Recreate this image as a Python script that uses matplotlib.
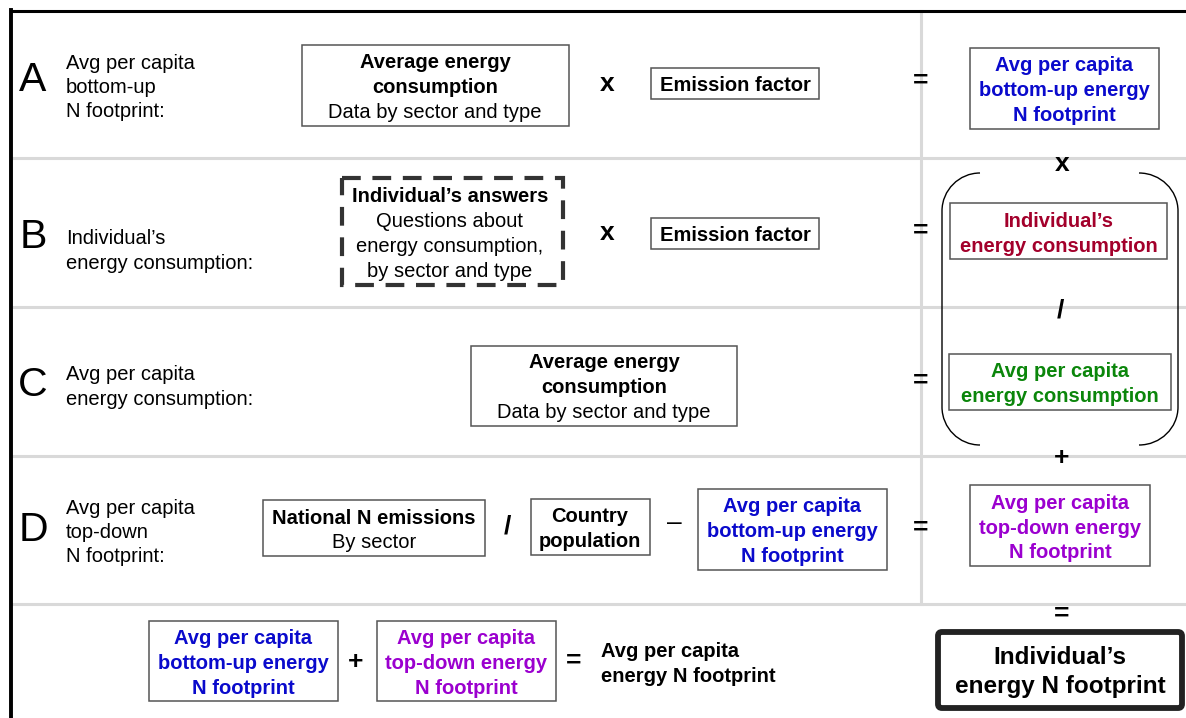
import matplotlib.pyplot as plt
from matplotlib.patches import Rectangle, FancyBboxPatch, PathPatch
from matplotlib.path import Path

plt.rcParams['font.family'] = ['Liberation Sans', 'DejaVu Sans']

# textos del diagrama
letras = ['A', 'B', 'C', 'D']
etiquetas = [
    ['Avg per capita', 'bottom-up', 'N footprint:'],
    ['Individual’s', 'energy consumption:'],
    ['Avg per capita', 'energy consumption:'],
    ['Avg per capita', 'top-down', 'N footprint:'],
]
consumo_medio = ['Average energy', 'consumption', 'Data by sector and type']
factor = ['Emission factor']
respuestas = ['Individual’s answers', 'Questions about', 'energy consumption,', 'by sector and type']
bottom_up = ['Avg per capita', 'bottom-up energy', 'N footprint']
top_down = ['Avg per capita', 'top-down energy', 'N footprint']
individual = ['Individual’s', 'energy consumption']
media_cap = ['Avg per capita', 'energy consumption']
emisiones = ['National N emissions', 'By sector']
poblacion = ['Country', 'population']
total_medio = ['Avg per capita', 'energy N footprint']
final = ['Individual’s', 'energy N footprint']

AZUL = '#0a0acc'
ROJO = '#a3002b'
VERDE = '#0b860b'
MORADO = '#9b00cf'
GRIS = '#d9d9d9'
BORDE = '#555555'

W, H = 1186, 718
fig = plt.figure(figsize=(W / 100, H / 100), dpi=100)
ax = fig.add_axes([0, 0, 1, 1])
ax.set_xlim(0, W)
ax.set_ylim(H, 0)
ax.axis('off')

# lineas de la cuadricula
for y in [158, 307, 456, 604]:
    ax.plot([11, W], [y, y], color=GRIS, lw=2.2, zorder=1)
ax.plot([921, 921], [11, 604], color=GRIS, lw=2.2, zorder=1)
ax.plot([11, W], [11, 11], color='black', lw=2.2, zorder=2)
ax.plot([11, 11], [10, H], color='black', lw=2.8, zorder=2)


def lineas(x, ys, textos, pesos, color='black', ha='center', size=14.5):
    # posiciona cada renglon por su linea base
    dy = size * 0.37 + 2
    for y, t, w in zip(ys, textos, pesos):
        ax.text(x, y + dy, t, ha=ha, va='baseline', fontsize=size, fontweight=w, color=color, zorder=5)


def caja(x0, y0, x1, y1, **kw):
    ax.add_patch(Rectangle((x0, y0), x1 - x0, y1 - y0, fill=False,
                           edgecolor=kw.get('ec', BORDE), lw=kw.get('lw', 1.1),
                           ls=kw.get('ls', '-'), zorder=3))


# etiquetas de las filas
letra_y = [80, 237, 385, 530]
etiqueta_y = [[62, 86, 110], [237, 262], [373, 398], [507, 531, 555]]
for l, ly, et, ey in zip(letras, letra_y, etiquetas, etiqueta_y):
    ax.text(33, ly, l, ha='center', va='center', fontsize=29.5, zorder=5)
    lineas(66, ey, et, ['normal'] * len(et), ha='left')

# fila A
caja(302, 45, 569, 126)
lineas(435, [61, 86, 111], consumo_medio, ['bold', 'bold', 'normal'])
caja(651, 68, 819, 99)
lineas(735, [84], factor, ['bold'])
caja(970, 48, 1159, 129)
lineas(1064, [64, 89, 114], bottom_up, ['bold'] * 3, color=AZUL)

# fila B
caja(342, 178, 563, 285, ec='#333333', lw=3, ls=(0, (4.5, 2.8)))
lineas(450, [195, 220, 245, 270], respuestas, ['bold', 'normal', 'normal', 'normal'])
caja(651, 218, 819, 249)
lineas(735, [234], factor, ['bold'])
caja(950, 203, 1167, 259)
lineas(1059, [220, 245], individual, ['bold'] * 2, color=ROJO)

# fila C
caja(471, 346, 737, 426)
lineas(604, [361, 386, 411], consumo_medio, ['bold', 'bold', 'normal'])
caja(949, 354, 1171, 410)
lineas(1060, [370, 395], media_cap, ['bold'] * 2, color=VERDE)

# fila D
caja(263, 500, 485, 556)
lineas(374, [517, 541], emisiones, ['bold', 'normal'])
caja(531, 499, 650, 555)
lineas(590, [515, 540], poblacion, ['bold'] * 2)
caja(698, 489, 887, 570)
lineas(792, [505, 530, 555], bottom_up, ['bold'] * 3, color=AZUL)
caja(970, 485, 1150, 566)
lineas(1060, [502, 527, 551], top_down, ['bold'] * 3, color=MORADO)

# fila final
caja(149, 621, 338, 701)
lineas(243, [637, 662, 687], bottom_up, ['bold'] * 3, color=AZUL)
caja(377, 621, 556, 701)
lineas(466, [637, 662, 687], top_down, ['bold'] * 3, color=MORADO)
lineas(601, [650, 675], total_medio, ['bold'] * 2, ha='left')
ax.add_patch(FancyBboxPatch((938, 632), 244, 76, boxstyle='round,pad=0,rounding_size=4',
                            fill=False, edgecolor='#222222', lw=4.2, zorder=3))
lineas(1060, [656, 685], final, ['bold'] * 2, size=17.5)

# operadores
ops = [('x', 607, 83), ('x', 607, 232), ('=', 921, 80), ('=', 921, 230), ('=', 921, 380),
       ('=', 921, 527), ('x', 1062, 163), ('/', 1060, 310), ('+', 1062, 457),
       ('/', 507, 525), ('=', 1062, 613), ('+', 356, 661), ('=', 574, 660)]
for s, x, y in ops:
    ax.text(x, y + 1, s, ha='center', va='center', fontsize=19, fontweight='bold', zorder=6)
ax.text(674, 523, '–', ha='center', va='center', fontsize=19, zorder=6)

# parentesis grande
k = 0.55
r = 38
for xa, xb in [(980, 942), (1139, 1178)]:
    v = [(xa, 173), (xa - (xa - xb) * k, 173), (xb, 173 + r * (1 - k)), (xb, 173 + r),
         (xb, 445 - r), (xb, 445 - r * (1 - k)), (xa - (xa - xb) * k, 445), (xa, 445)]
    c = [Path.MOVETO, Path.CURVE4, Path.CURVE4, Path.CURVE4,
         Path.LINETO, Path.CURVE4, Path.CURVE4, Path.CURVE4]
    ax.add_patch(PathPatch(Path(v, c), fill=False, lw=1.0, edgecolor='black', zorder=3))

plt.savefig('out.png', dpi=100)
